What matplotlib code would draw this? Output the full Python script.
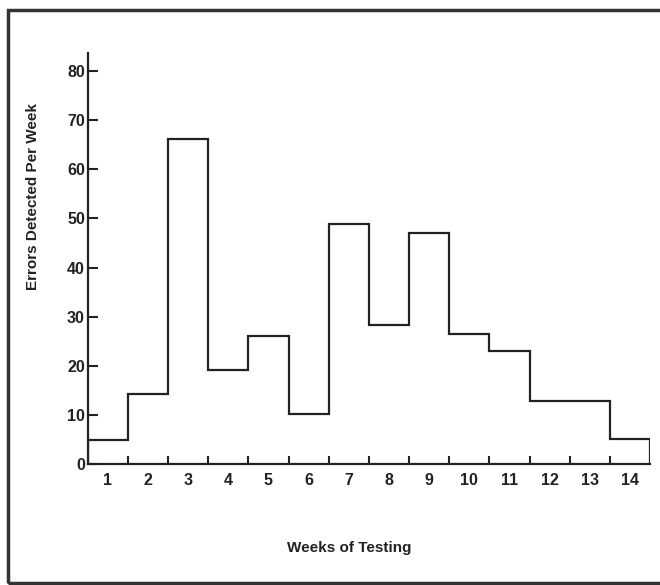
import matplotlib
matplotlib.use("Agg")
import matplotlib.pyplot as plt
from matplotlib.patches import Rectangle
import numpy as np

plt.rcParams['font.family'] = ['Liberation Sans', 'DejaVu Sans']

weeks = list(range(1, 15))
errors = [5, 14.3, 66.1, 19.1, 26.1, 10.2, 48.8, 28.3, 47.1, 26.4, 23.0, 12.9, 12.9, 5.1]
y_ticks = [0, 10, 20, 30, 40, 50, 60, 70, 80]
x_label = "Weeks of Testing"
y_label = "Errors Detected Per Week"

fig = plt.figure(figsize=(6.6, 5.85), dpi=100)
ax = fig.add_axes([87.7/660, 1-464.3/585, (650-87.7)/660, (464.3-52.7)/585])

edges = np.arange(0.5, len(weeks) + 1.0, 1.0)
ax.stairs(errors, edges, color='#222222', lw=1.6, baseline=0)

ax.set_xlim(0.5, 14.5)
ax.set_ylim(0, 83.7)
for s in ['top', 'right']:
    ax.spines[s].set_visible(False)
for s in ['left', 'bottom']:
    ax.spines[s].set_linewidth(1.6)
    ax.spines[s].set_color('#222222')

tick_font = dict(fontsize=11.5, fontweight='bold', color='#222222')
ax.set_yticks(y_ticks)
ax.set_yticklabels([str(v) for v in y_ticks], **tick_font)
ax.tick_params(axis='y', direction='in', length=7, width=1.5, pad=2, color='#222222')

ax.set_xticks(edges[1:-1])
ax.set_xticklabels([])
ax.tick_params(axis='x', direction='in', length=6, width=1.5, color='#222222')
ax.set_xticks(weeks, minor=True)
ax.set_xticklabels([str(w) for w in weeks], minor=True, **tick_font)
ax.tick_params(axis='x', which='minor', length=0, pad=6)

fig.text(349/660, 1-548/585, x_label, ha='center', va='center', fontsize=11, fontweight='bold', color='#222222')
fig.text(33/660, 1-197/585, y_label, ha='center', va='center', rotation=90, fontsize=11, fontweight='bold', color='#222222')

fig.add_artist(Rectangle((8/660, 2/585), 1.2, 1-12/585, transform=fig.transFigure,
                         fill=False, lw=2.5, edgecolor='#333333', clip_on=False))

fig.savefig('out.png', dpi=100)
